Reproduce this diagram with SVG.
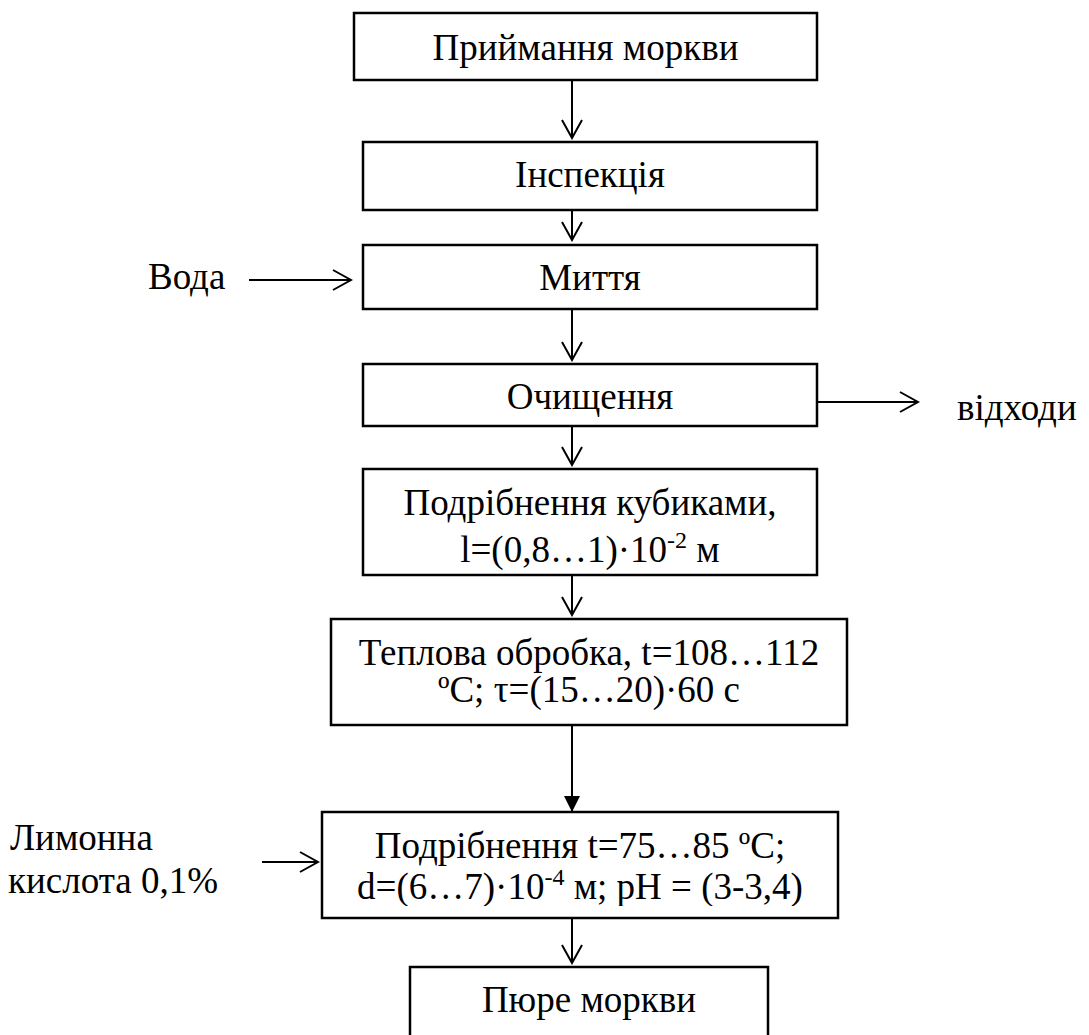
<svg xmlns="http://www.w3.org/2000/svg" width="1089" height="1035" viewBox="0 0 1089 1035">
<style>
.box{fill:#fff;stroke:#000;stroke-width:2.5}
.t{font-family:'Liberation Serif','Times New Roman','DejaVu Serif',serif;font-size:37px;fill:#000}
.c{text-anchor:middle}
.ln{stroke:#000;stroke-width:2;fill:none}
</style>
<defs>
<marker id="open" viewBox="-20 -12 22 24" markerWidth="22" markerHeight="24" refX="0" refY="0" markerUnits="userSpaceOnUse" orient="auto">
<path d="M-18,-10 L0,0 L-18,10" fill="none" stroke="#000" stroke-width="2"/>
</marker>
<marker id="solid" viewBox="-18 -10 20 20" markerWidth="20" markerHeight="20" refX="0" refY="0" markerUnits="userSpaceOnUse" orient="auto">
<path d="M-16,-8 L0,0 L-16,8 Z" fill="#000"/>
</marker>
<clipPath id="clip7"><rect x="322" y="812" width="516" height="94"/></clipPath>
</defs>
<rect width="1089" height="1035" fill="#fff"/>
<g id="connectors">
<line class="ln" x1="572" y1="80" x2="572" y2="138" marker-end="url(#open)"/>
<line class="ln" x1="572" y1="210" x2="572" y2="240" marker-end="url(#open)"/>
<line class="ln" x1="249" y1="280" x2="351" y2="280" marker-end="url(#open)"/>
<line class="ln" x1="572" y1="309" x2="572" y2="360" marker-end="url(#open)"/>
<line class="ln" x1="817" y1="402" x2="918" y2="402" marker-end="url(#open)"/>
<line class="ln" x1="572" y1="426" x2="572" y2="465" marker-end="url(#open)"/>
<line class="ln" x1="572" y1="575" x2="572" y2="615" marker-end="url(#open)"/>
<line class="ln" x1="572" y1="725" x2="572" y2="812" marker-end="url(#solid)"/>
<line class="ln" x1="262" y1="862" x2="318" y2="862" marker-end="url(#open)"/>
<line class="ln" x1="572" y1="918" x2="572" y2="963" marker-end="url(#open)"/>
</g>
<g id="n1"><rect class="box" x="354" y="13" width="463" height="67"/><text class="t c" x="585.5" y="60">Приймання моркви</text></g>
<g id="n2"><rect class="box" x="363" y="142" width="454" height="68"/><text class="t c" x="590" y="187">Інспекція</text></g>
<g id="n3"><rect class="box" x="363" y="245" width="454" height="64"/><text class="t c" x="590" y="290">Миття</text></g>
<g id="water"><text class="t" x="148" y="289">Вода</text></g>
<g id="n4"><rect class="box" x="363" y="364" width="454" height="62"/><text class="t c" x="590" y="409">Очищення</text></g>
<g id="waste"><text class="t" x="957" y="420">відходи</text></g>
<g id="n5"><rect class="box" x="363" y="469" width="454" height="106"/>
<text class="t c" x="590" y="515">Подрібнення кубиками,</text>
<text class="t c" x="590" y="562">l=(0,8…1)·10<tspan dy="-14" font-size="24">-2</tspan><tspan dy="14"> м</tspan></text></g>
<g id="n6"><rect class="box" x="331" y="619" width="516" height="106"/>
<text class="t c" x="589" y="665">Теплова обробка, t=108…112</text>
<text class="t c" x="589" y="702">ºC; τ=(15…20)·60 с</text></g>
<g id="acid"><text class="t" x="10" y="850">Лимонна</text><text class="t" x="8" y="893">кислота 0,1%</text></g>
<g id="n7"><rect class="box" x="322" y="812" width="516" height="106"/>
<text class="t c" x="580" y="858">Подрібнення t=75…85 ºC;</text>
<text class="t c" x="580" y="899" clip-path="url(#clip7)">d=(6…7)·10<tspan dy="-14" font-size="24">-4</tspan><tspan dy="14"> м; pH = (3-3,4)</tspan></text></g>
<g id="n8"><rect class="box" x="410" y="967" width="358" height="80"/><text class="t c" x="589" y="1012">Пюре моркви</text></g>
</svg>
